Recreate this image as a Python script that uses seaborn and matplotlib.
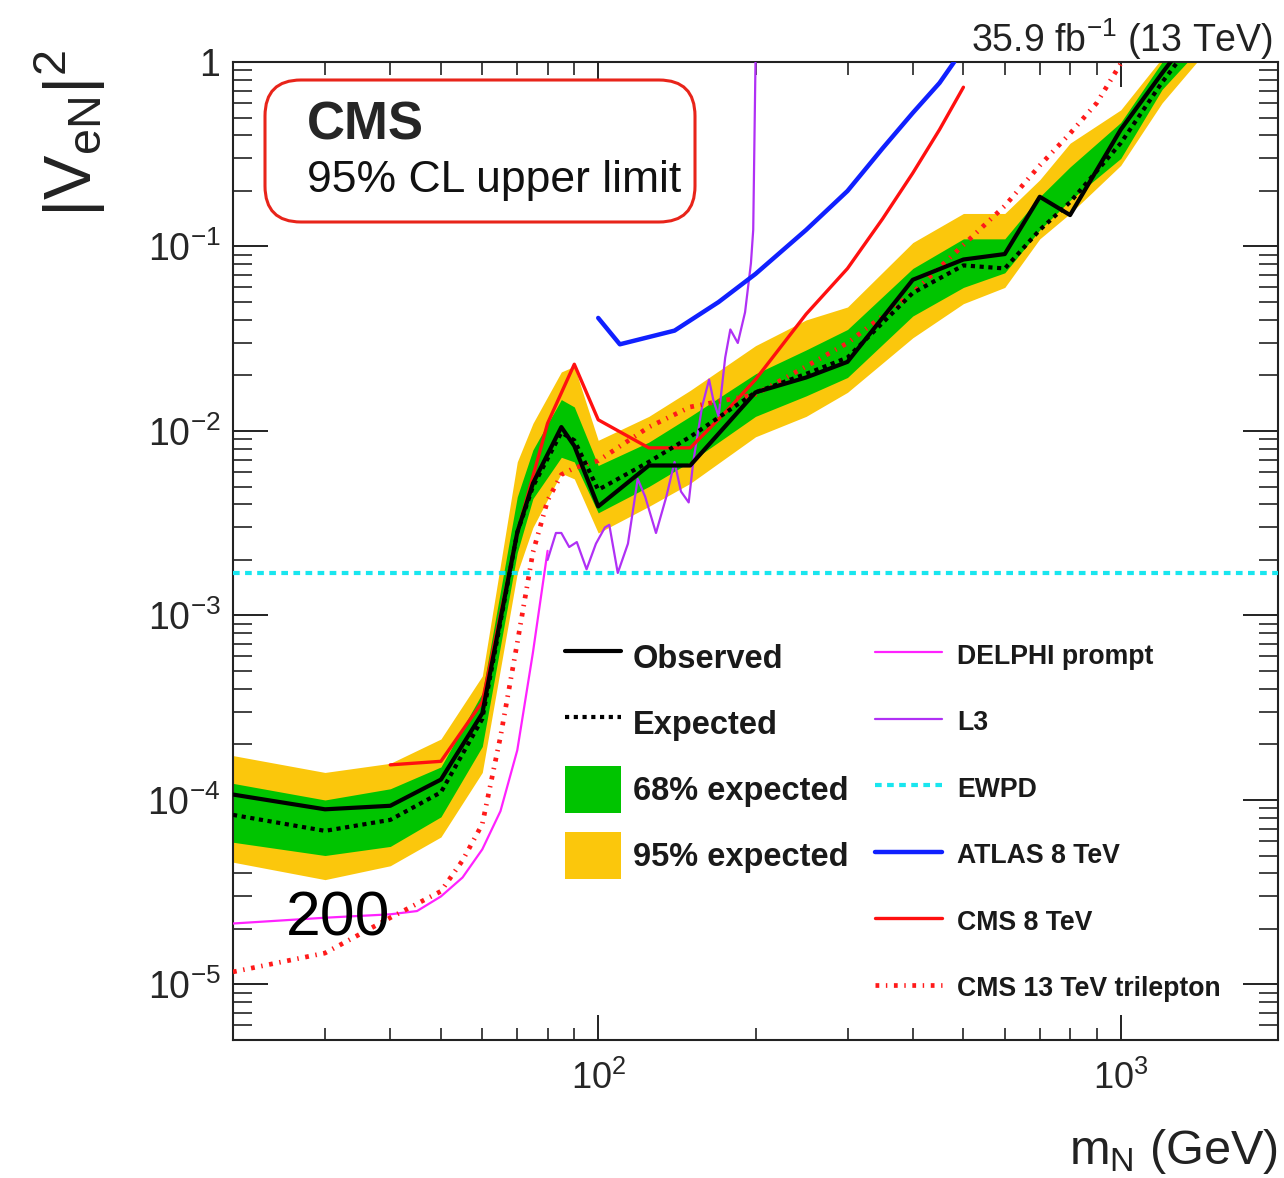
import numpy as np
import pandas as pd
import matplotlib
matplotlib.use("Agg")
import matplotlib.pyplot as plt
import seaborn as sns
from matplotlib.patches import FancyBboxPatch, Patch
from matplotlib.transforms import IdentityTransform
from matplotlib.ticker import LogLocator, FuncFormatter, NullFormatter

# ---------------- data ----------------
mass = [20, 30, 40, 50, 60, 70, 75, 85, 90, 100, 125, 150, 200, 250, 300,
        400, 500, 600, 700, 800, 1000, 1200, 1500]
observed = [1.07e-4, 8.9e-5, 9.3e-5, 1.29e-4, 2.95e-4, 2.82e-3, 5.2e-3, 1.05e-2,
            8.3e-3, 3.9e-3, 6.5e-3, 6.5e-3, 1.62e-2, 1.95e-2, 2.37e-2, 6.6e-2,
            8.5e-2, 9.1e-2, 0.186, 0.148, 0.43, 0.87, 2.0]
expected = [8.3e-5, 6.8e-5, 7.8e-5, 1.10e-4, 2.75e-4, 2.82e-3, 5.0e-3, 9.8e-3,
            8.9e-3, 4.8e-3, 6.8e-3, 9.3e-3, 1.62e-2, 2.04e-2, 2.5e-2, 5.6e-2,
            7.9e-2, 7.6e-2, 0.123, 0.174, 0.363, 0.776, 1.78]
band68_lo = [5.9e-5, 5.0e-5, 5.6e-5, 8.1e-5, 1.95e-4, 2.19e-3, 4.3e-3, 7.2e-3,
             6.8e-3, 3.6e-3, 5.0e-3, 6.8e-3, 1.20e-2, 1.55e-2, 1.95e-2, 4.2e-2,
             6.0e-2, 7.2e-2, 0.123, 0.178, 0.30, 0.71, 1.41]
band68_hi = [1.23e-4, 1.0e-4, 1.15e-4, 1.51e-4, 3.8e-4, 4.4e-3, 7.9e-3, 1.48e-2,
             1.35e-2, 6.5e-3, 8.7e-3, 1.20e-2, 2.04e-2, 2.75e-2, 3.55e-2, 7.6e-2,
             0.11, 0.11, 0.186, 0.27, 0.47, 1.0, 2.5]
band95_lo = [4.6e-5, 3.7e-5, 4.4e-5, 6.3e-5, 1.41e-4, 1.70e-3, 3.0e-3, 5.9e-3,
             5.5e-3, 2.8e-3, 3.9e-3, 5.2e-3, 9.3e-3, 1.20e-2, 1.62e-2, 3.2e-2,
             4.9e-2, 6.0e-2, 0.11, 0.151, 0.275, 0.60, 1.26]
band95_hi = [1.74e-4, 1.41e-4, 1.58e-4, 2.14e-4, 4.7e-4, 6.8e-3, 1.10e-2, 2.09e-2,
             2.24e-2, 8.9e-3, 1.20e-2, 1.66e-2, 2.9e-2, 4.0e-2, 4.7e-2, 0.105,
             0.151, 0.151, 0.23, 0.363, 0.55, 1.05, 3.2]

delphi_mass = [20, 30, 40, 45, 50, 55, 60, 65, 70, 75, 80]
delphi_limit = [2.14e-5, 2.3e-5, 2.4e-5, 2.5e-5, 3.0e-5, 3.8e-5, 5.4e-5, 8.7e-5,
                1.86e-4, 6.3e-4, 2.24e-3]

l3_mass = [80, 83, 85, 88, 91, 95, 99, 103, 105, 109, 114, 119, 123, 129, 135,
           140, 144, 149, 152, 158, 163, 166, 170, 175, 179, 185, 191, 196, 198, 200]
l3_limit = [2.0e-3, 2.8e-3, 2.8e-3, 2.35e-3, 2.5e-3, 1.78e-3, 2.45e-3, 3.0e-3,
            3.1e-3, 1.70e-3, 2.45e-3, 5.5e-3, 4.4e-3, 2.8e-3, 4.4e-3, 6.8e-3,
            4.7e-3, 4.1e-3, 6.8e-3, 1.35e-2, 1.9e-2, 1.48e-2, 1.2e-2, 2.5e-2,
            3.55e-2, 3.0e-2, 4.4e-2, 8.1e-2, 0.123, 1.0]

ewpd_limit = 1.7e-3

atlas8_mass = [100, 110, 140, 170, 200, 250, 300, 350, 400, 450, 480]
atlas8_limit = [4.1e-2, 2.95e-2, 3.5e-2, 5.0e-2, 7.1e-2, 0.123, 0.20, 0.34,
                0.53, 0.77, 1.0]

cms8_mass = [40, 50, 60, 70, 80, 90, 100, 125, 150, 175, 200, 250, 300, 350,
             400, 450, 500]
cms8_limit = [1.55e-4, 1.62e-4, 3.4e-4, 2.8e-3, 1.10e-2, 2.3e-2, 1.15e-2, 8.1e-3,
              8.1e-3, 1.26e-2, 1.9e-2, 4.3e-2, 7.6e-2, 0.141, 0.25, 0.43, 0.73]

trilep_mass = [20, 30, 40, 50, 55, 60, 65, 70, 75, 80, 85, 90, 100, 125, 150,
               200, 250, 300, 400, 500, 600, 700, 800, 900, 1000]
trilep_limit = [1.17e-5, 1.48e-5, 2.3e-5, 3.2e-5, 4.7e-5, 7.4e-5, 2.2e-4, 7.1e-4,
                2.2e-3, 4.2e-3, 5.8e-3, 6.3e-3, 6.9e-3, 1.05e-2, 1.35e-2, 1.58e-2,
                2.24e-2, 3.0e-2, 5.6e-2, 0.102, 0.166, 0.275, 0.41, 0.60, 0.98]

legend_left = ["Observed", "Expected", "68% expected", "95% expected"]
legend_right = ["DELPHI prompt", "L3", "EWPD", "ATLAS 8 TeV", "CMS 8 TeV",
                "CMS 13 TeV trilepton"]

# ---------------- style ----------------
sns.set_theme(style="ticks")
plt.rcParams['font.family'] = ['Liberation Sans', 'DejaVu Sans']
plt.rcParams['mathtext.fontset'] = 'custom'
plt.rcParams['mathtext.rm'] = 'Liberation Sans'
plt.rcParams['mathtext.it'] = 'Liberation Sans:italic'
plt.rcParams['mathtext.bf'] = 'Liberation Sans:bold'

W, H = 1284, 1178
fig = plt.figure(figsize=(W / 100, H / 100), dpi=100)
fig.patch.set_facecolor('white')
ax = fig.add_axes([233 / W, 1 - 1040 / H, (1278 - 233) / W, (1040 - 62) / H])
ax.set_facecolor('white')
ax.set_xscale('log')
ax.set_yscale('log')
ax.set_xlim(20, 2000)
ax.set_ylim(5e-6, 1)

YELLOW = '#fbc70c'
GREEN = '#00c400'

ax.fill_between(mass, band95_lo, band95_hi, color=YELLOW, lw=0, zorder=1)
ax.fill_between(mass, band68_lo, band68_hi, color=GREEN, lw=0, zorder=2)


def draw(x, y, **kw):
    df = pd.DataFrame({"x": x, "y": y})
    sns.lineplot(data=df, x="x", y="y", ax=ax, estimator=None, sort=False,
                 legend=False, **kw)
    return ax.lines[-1]


ln_delphi = draw(delphi_mass, delphi_limit, color='#ff22ff', lw=1.6, zorder=4)
ln_l3 = draw(l3_mass, l3_limit, color='#b030f5', lw=1.6, zorder=4)
ln_ewpd = ax.axhline(ewpd_limit, color='#19e6ef', lw=3.0,
                     linestyle=(0, (1.6, 1.3)), zorder=4)
ln_atlas = draw(atlas8_mass, atlas8_limit, color='#1020ff', lw=3.2, zorder=4)
ln_cms8 = draw(cms8_mass, cms8_limit, color='#ff1010', lw=2.4, zorder=4)
ln_tri = draw(trilep_mass, trilep_limit, color='#ff1a1a', lw=3.4,
              linestyle=(0, (0.8, 1.4, 0.3, 1.4)), zorder=4)
ln_exp = draw(mass, expected, color='black', lw=3.0,
              linestyle=(0, (1.0, 1.1)), zorder=5)
ln_obs = draw(mass, observed, color='black', lw=3.0, zorder=6)

ax.set_xlabel('')
ax.set_ylabel('')

# ---------------- axes & ticks ----------------
for s in ax.spines.values():
    s.set_linewidth(1.5)
    s.set_color('#222222')
    s.set_visible(True)

ax.xaxis.set_major_locator(LogLocator(base=10, numticks=50))
ax.xaxis.set_minor_locator(LogLocator(base=10, subs=np.arange(2, 10), numticks=50))
ax.yaxis.set_major_locator(LogLocator(base=10, numticks=50))
ax.yaxis.set_minor_locator(LogLocator(base=10, subs=np.arange(2, 10), numticks=50))
ax.xaxis.set_minor_formatter(NullFormatter())
ax.yaxis.set_minor_formatter(NullFormatter())


def fmt(v, pos):
    e = int(round(np.log10(v)))
    if e == 0:
        return '1'
    return r'$10^{%d}$' % e


ax.xaxis.set_major_formatter(FuncFormatter(fmt))
ax.yaxis.set_major_formatter(FuncFormatter(fmt))

ax.tick_params(axis='x', which='major', direction='in', length=18, width=1.4,
               top=True, bottom=True, labelsize=26, pad=15, color='#222222')
ax.tick_params(axis='x', which='minor', direction='in', length=9, width=1.2,
               top=True, bottom=True, color='#222222')
ax.tick_params(axis='y', which='major', direction='in', length=25, width=1.4,
               left=True, right=True, labelsize=27, pad=9, color='#222222')
ax.tick_params(axis='y', which='minor', direction='in', length=14, width=1.2,
               left=True, right=True, color='#222222')

# ---------------- texts ----------------
fig.text(1273 / W, 1 - 52 / H, r'35.9 fb$^{-1}$ (13 TeV)', ha='right',
         va='baseline', fontsize=27, color='#222222')
fig.text(70 / W, 1 - 50 / H, r'$|\mathrm{V}_{\mathrm{eN}}|^{2}$', rotation=90,
         ha='center', va='top', fontsize=48, color='#222222')
fig.text(1278 / W, 1 - 1176 / H, r'm$_{\mathrm{N}}$ (GeV)', ha='right',
         va='bottom', fontsize=35, color='#222222')

box = FancyBboxPatch((265, H - 222), 430, 142,
                     boxstyle="round,pad=0,rounding_size=36",
                     transform=IdentityTransform(), facecolor='white',
                     edgecolor='#e8241a', lw=2.2, zorder=10)
fig.add_artist(box)
fig.text(307 / W, 1 - 140 / H, 'CMS', weight='bold', fontsize=38,
         ha='left', va='baseline', zorder=11)
fig.text(307 / W, 1 - 192 / H, '95% CL upper limit', fontsize=32,
         ha='left', va='baseline', zorder=11, color='#111111')

fig.text(338 / W, 1 - 935 / H, '200', ha='center', va='baseline', fontsize=45,
         color='black', zorder=12)

# ---------------- legends ----------------
h68 = Patch(facecolor=GREEN, edgecolor='none')
h95 = Patch(facecolor=YELLOW, edgecolor='none')
leg1 = fig.legend(handles=[ln_obs, ln_exp, h68, h95], labels=legend_left,
                  loc='upper left', bbox_to_anchor=(565 / W, 1 - 634 / H),
                  bbox_transform=fig.transFigure, frameon=False,
                  prop={'size': 23.5, 'weight': 'bold'}, handlelength=1.72,
                  handleheight=1.84, handletextpad=0.36, labelspacing=0.58,
                  borderpad=0, borderaxespad=0)
leg2 = fig.legend(handles=[ln_delphi, ln_l3, ln_ewpd, ln_atlas, ln_cms8, ln_tri],
                  labels=legend_right, loc='upper left',
                  bbox_to_anchor=(875 / W, 1 - 641 / H),
                  bbox_transform=fig.transFigure, frameon=False,
                  prop={'size': 19.2, 'weight': 'bold'}, handlelength=2.52,
                  handleheight=1.2, handletextpad=0.56, labelspacing=1.42,
                  borderpad=0, borderaxespad=0)
for t in leg1.get_texts() + leg2.get_texts():
    t.set_color('#1a1a1a')

fig.savefig('out.png', dpi=100, facecolor='white')
